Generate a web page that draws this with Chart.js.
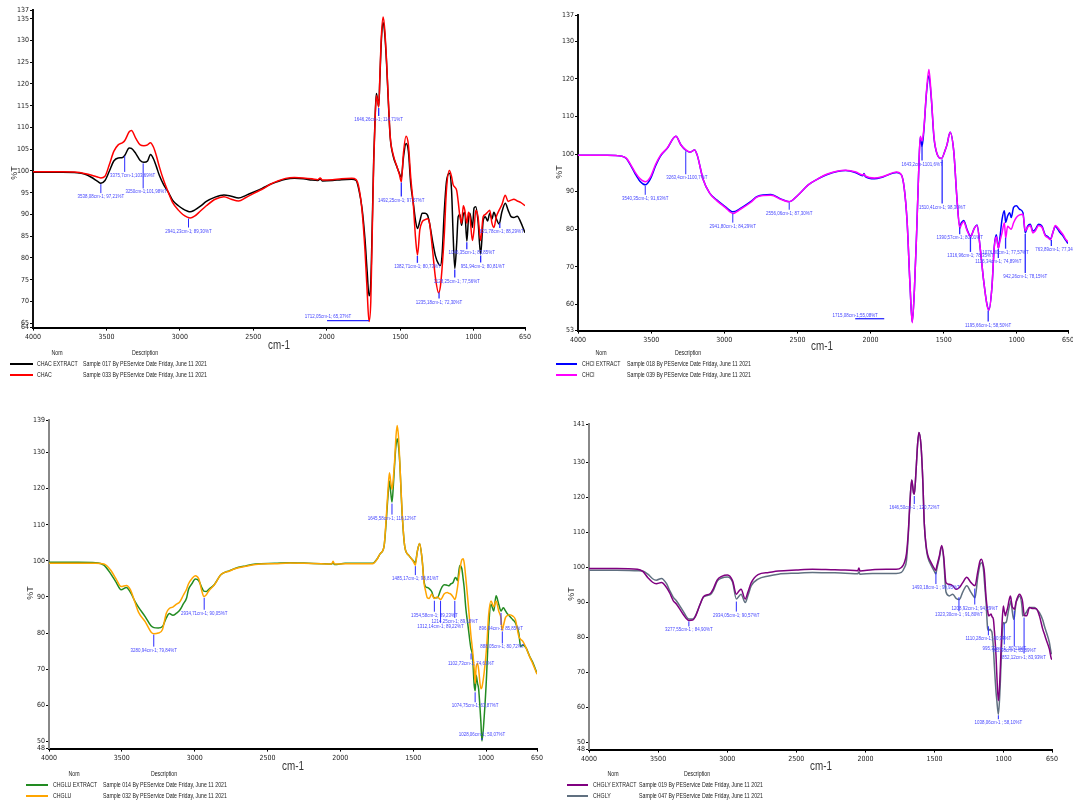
<!DOCTYPE html>
<html><head><meta charset="utf-8">
<script src="https://cdn.jsdelivr.net/npm/chart.js@4.4.1/dist/chart.umd.min.js"></script>
<style>
html,body{margin:0;padding:0;background:#fff;}
#root{position:relative;width:1073px;height:805px;overflow:hidden;background:#fff;font-family:'Liberation Sans',Arial,sans-serif;}
.pane{position:absolute;}
.t{position:absolute;white-space:nowrap;color:#222;line-height:1;}
.c{transform:translate(-50%,-50%) scaleX(0.82);}
.l{transform:translateY(-50%) scaleX(0.82);transform-origin:0 50%;}
.ytitle{transform:translate(-50%,-50%) rotate(-90deg);font-size:9px;color:#333;}
.xtitle{font-size:12px;color:#333;}
.leg{font-size:6.4px;}
.sw{position:absolute;height:2px;}
</style></head><body><div id="root"></div>
<script>
const FONT = "'Liberation Sans Narrow','DejaVu Sans Condensed','Liberation Sans',Arial,sans-serif";
const AFONT = "'Liberation Sans',Arial,sans-serif";

// ---------- shared ticks ----------
const X_TICKS = [4000,3500,3000,2500,2000,1500,1000,650];
const Y_TICKS_CHAC = [64,65,70,75,80,85,90,95,100,105,110,115,120,125,130,135,137];
const Y_TICKS_CHCL = [53,60,70,80,90,100,110,120,130,137];
const Y_TICKS_CHGLU = [48,50,60,70,80,90,100,110,120,130,139];
const Y_TICKS_CHGLY = [48,50,60,70,80,90,100,110,120,130,141];

// ---------- panel 1 : CHAC ----------
const WN_CHAC = [4000,3800,3700,3650,3600,3560,3538,3510,3480,3450,3420,3390,3375,3345,3330,3300,3270,3245,3220,3200,3180,3160,3140,3110,3080,3050,3010,2980,2950,2930,2900,2860,2820,2760,2700,2650,2600,2550,2500,2440,2380,2340,2280,2220,2160,2100,2060,2045,2030,1960,1900,1830,1800,1780,1760,1740,1725,1712,1700,1690,1680,1670,1662,1655,1646,1638,1628,1616,1605,1593,1580,1568,1548,1525,1506,1492,1478,1460,1444,1428,1410,1395,1382,1366,1350,1330,1313,1300,1280,1260,1238,1226,1215,1200,1185,1165,1150,1139,1128,1115,1105,1093,1082,1070,1060,1046,1035,1025,1008,997,985,970,952,935,920,905,890,875,862,845,826,808,784,765,745,726,703,680,650];
const CHAC_EXTRACT = [99.7,99.7,99.6,99.3,98.5,97.6,97.2,97.8,100.0,102.3,103.0,103.1,103.6,105.3,105.2,104.0,102.4,102.0,102.3,103.8,102.8,101.0,99.0,96.8,95.2,93.3,92.0,91.3,90.8,90.6,91.0,91.9,93.0,94.0,94.5,94.2,93.8,94.4,95.1,96.0,97.0,97.5,98.1,98.3,98.2,97.9,97.8,98.2,97.7,97.8,98.0,98.1,97.8,95.5,91.5,84.5,77.0,71.3,74.5,88.0,103.0,113.0,117.8,116.5,114.8,121.5,130.0,134.1,131.5,125.0,115.5,107.8,103.5,101.2,99.5,98.5,103.0,106.3,104.5,97.0,92.5,88.5,86.8,88.5,90.3,90.3,89.8,88.0,84.0,80.5,78.6,78.3,80.5,90.5,97.5,99.5,95.5,85.0,77.6,83.5,89.5,90.0,87.5,90.0,90.5,83.9,89.0,90.3,87.0,91.5,91.8,88.5,80.9,88.5,89.5,88.5,90.3,89.0,90.5,89.0,87.8,90.5,92.6,91.0,89.5,89.3,89.6,88.3,85.8];
const CHAC = [99.8,99.8,99.7,99.4,99.0,98.6,98.4,98.8,101.5,104.5,106.0,106.5,107.0,109.0,109.3,107.5,106.0,105.8,106.0,106.5,105.5,103.5,101.0,97.8,95.2,92.8,91.0,90.0,89.4,89.2,89.6,90.8,92.0,93.5,94.1,93.5,93.1,93.9,94.8,95.8,97.0,97.6,98.3,98.5,98.4,98.2,98.0,98.4,97.9,98.0,98.2,98.3,98.0,96.0,91.0,82.0,72.5,65.4,70.0,86.0,102.0,112.5,117.3,116.3,114.7,122.0,131.0,135.4,132.5,125.5,116.0,108.0,103.8,101.3,99.3,97.5,104.0,108.0,106.0,98.5,92.0,84.5,80.7,86.5,88.3,88.8,89.0,88.0,82.0,75.5,72.0,73.5,77.5,85.0,95.5,100.1,98.7,96.8,96.3,95.5,93.0,89.5,88.0,92.0,91.0,88.0,90.5,89.5,84.0,86.5,91.0,89.5,84.0,89.5,90.0,90.5,91.0,88.0,87.0,89.5,91.0,92.2,94.4,93.0,93.3,93.5,93.1,92.8,92.0];
const ANN_CHAC_WN = [3538.08,3375.7,3250,2941.23,1712.05,1646.26,1492.25,1382.71,1235.18,1128.25,1046.35,951.94,821.78];
const ANN_CHAC_VAL = [97.21,103.69,101.98,89.30,65.37,114.71,97.57,80.73,72.30,77.56,83.85,80.81,88.29];
const ANN_CHAC_TEXT = ["3538,08cm-1; 97,21%T","3375,7cm-1;103,69%T","3250cm-1;101,98%T","2941,23cm-1; 89,30%T","1712,05cm-1; 65,37%T","1646,26cm-1; 114,71%T","1492,25cm-1; 97,57%T","1382,71cm-1; 80,73%T","1235,18cm-1; 72,30%T","1128,25cm-1; 77,56%T","1046,35cm-1; 83,85%T","951,94cm-1; 80,81%T","821,78cm-1; 88,29%T"];

// ---------- panel 2 : CHCl ----------
const WN_CHCL = [4000,3800,3700,3670,3640,3610,3575,3540,3505,3470,3435,3390,3331,3296,3263,3233,3203,3185,3145,3100,3052,2994,2941,2890,2820,2774,2681,2611,2556,2495,2426,2368,2300,2170,2100,2054,2045,2036,1973,1915,1822,1790,1770,1750,1730,1715,1700,1685,1672,1660,1648,1636,1617,1601,1585,1566,1543,1515,1490,1477,1456,1431,1409,1390,1379,1363,1340,1316,1290,1272,1249,1227,1204,1190,1170,1154,1140,1126,1117,1101,1085,1076,1063,1049,1038,1022,1003,981,958,942,926,908,890,874,851,828,806,790,770,750,737,720,703,685,669,650];
const CHCL_EXTRACT = [99.7,99.7,99.4,98.8,97.0,94.8,92.7,91.8,93.4,96.8,99.5,101.5,104.7,102.4,101.0,100.5,101.1,99.7,93.3,89.6,87.8,86.0,84.6,85.5,87.3,88.7,89.2,88.0,87.3,89.1,91.8,93.2,94.5,95.6,95.0,94.2,94.8,94.0,93.4,93.9,95.1,94.5,91.0,82.0,65.0,55.3,64.0,79.0,94.0,104.5,102.0,106.0,116.5,120.8,115.0,104.2,99.8,98.8,101.0,102.5,105.8,100.7,88.0,80.8,81.7,82.3,79.9,78.2,80.3,81.1,74.5,66.4,60.0,58.6,64.6,75.4,78.5,75.0,77.2,82.6,84.9,81.8,83.5,84.4,83.1,85.8,86.2,85.3,84.4,79.0,80.8,81.3,79.5,79.9,81.3,80.8,78.5,78.1,77.4,79.5,80.8,80.0,79.0,78.2,77.2,76.2];
const CHCL = [99.7,99.7,99.4,98.9,97.2,95.2,93.4,92.6,93.9,97.2,99.7,101.6,104.7,102.4,101.1,100.5,101.1,99.7,93.3,89.6,87.6,85.8,84.2,85.3,87.1,88.6,89.0,87.9,87.3,89.1,91.8,93.2,94.6,95.7,95.2,94.4,94.6,94.2,93.6,94.0,95.2,94.5,91.0,82.0,65.0,55.1,64.0,79.0,94.0,104.7,103.5,106.5,117.0,122.5,115.5,104.5,99.8,98.8,101.0,102.5,105.8,100.7,88.0,80.2,81.2,82.0,79.6,78.0,80.3,81.0,74.5,66.4,59.8,58.4,64.6,75.2,78.0,74.9,76.5,79.0,81.7,77.6,80.8,80.3,80.0,81.7,83.1,83.8,84.0,79.5,80.5,81.0,79.0,79.5,81.0,80.5,78.3,77.8,77.2,79.6,81.0,80.4,79.5,78.6,77.5,76.6];
const ANN_CHCL_WN = [3540.35,3263.4,2941.80,2556.06,1715.08,1648,1510.41,1390.57,1316.96,1195.66,1126.34,1076.80,942.26,763.89];
const ANN_CHCL_VAL = [91.8,101.0,84.4,87.3,55.1,102.5,98.8,80.8,78.2,58.6,75.0,78.0,79.0,77.4];
const ANN_CHCL_TEXT = ["3540,35cm-1; 91,63%T","3263,4cm-1100,7%T","2941,80cm-1; 84,29%T","2556,06cm-1; 87,30%T","1715,08cm-1;55,08%T","1643,2cm-1101,6%T","1510,41cm-1; 98,30%T","1390,57cm-1; 80,01%T","1316,96cm-1; 78,35%T","1195,66cm-1; 58,50%T","1126,34cm-1; 74,89%T","1076,80cm-1; 77,57%T","942,26cm-1; 78,15%T","763,89cm-1; 77,34%T"];

// ---------- panel 3 : CHGLU ----------
const WN_CHGLU = [4000,3800,3680,3623,3576,3540,3505,3469,3440,3410,3386,3339,3300,3280,3250,3221,3195,3174,3150,3125,3103,3079,3055,3043,3020,2996,2972,2950,2937,2920,2901,2866,2819,2760,2724,2650,2582,2450,2345,2250,2132,2060,2050,2040,1967,1850,1778,1750,1726,1700,1685,1673,1663,1653,1645,1636,1627,1618,1610,1600,1592,1576,1558,1530,1499,1485,1472,1456,1438,1426,1415,1403,1390,1373,1357,1334,1311,1304,1288,1265,1254,1242,1226,1214,1208,1196,1180,1166,1157,1150,1139,1122,1104,1093,1081,1074,1068,1058,1051,1035,1028,1012,996,989,982,966,947,931,913,897,890,881,867,858,839,816,798,775,763,747,724,700,680,650];
const CHGLU_EXTRACT = [99.6,99.6,99.5,98.8,96.4,94.1,92.0,92.6,91.2,88.8,87.2,84.5,82.0,81.5,81.4,81.8,84.2,85.4,84.9,85.5,86.3,88.0,89.8,92.0,93.6,95.0,94.5,92.5,91.6,91.5,92.2,93.4,96.2,97.3,97.9,98.6,99.1,99.3,99.5,99.4,99.2,99.1,99.5,99.0,99.3,99.3,99.3,100.4,102.0,104.0,111.0,118.0,122.1,118.5,116.3,121.0,127.0,132.0,133.8,131.5,127.0,113.2,104.0,101.5,100.0,99.5,102.5,104.8,100.1,94.5,92.8,92.6,92.3,91.5,89.8,89.8,92.0,92.6,93.4,93.2,93.1,93.6,94.0,95.2,95.4,94.5,98.7,97.8,95.0,92.6,87.0,81.5,75.8,73.9,65.5,64.0,68.3,66.0,64.6,55.2,50.1,57.1,68.3,75.0,81.4,88.0,86.1,90.3,88.0,86.1,86.5,87.0,86.2,85.6,84.7,83.7,82.8,80.0,76.3,76.7,75.8,73.5,72.0,68.8];
const CHGLU = [99.3,99.3,99.3,99.1,97.4,95.0,92.9,93.2,91.9,88.5,85.8,83.1,80.3,79.8,80.0,81.0,85.5,86.8,87.2,88.0,88.6,90.4,92.2,93.6,95.0,95.9,95.0,91.5,90.1,90.6,91.8,93.3,96.2,97.2,97.8,98.5,99.0,99.2,99.4,99.3,99.2,99.1,99.9,99.1,99.2,99.2,99.2,100.3,102.0,104.0,112.0,119.5,124.4,121.5,119.8,123.0,128.0,134.5,137.5,134.0,127.5,113.5,104.0,101.5,99.8,98.8,102.5,104.8,100.1,94.0,91.7,89.8,89.6,90.8,89.6,90.0,89.3,89.6,90.8,91.2,91.0,90.8,90.0,89.3,89.8,92.6,97.5,100.3,100.6,99.5,95.4,88.0,79.5,75.5,70.0,66.0,70.5,71.6,70.0,64.6,65.0,69.3,76.0,80.5,85.0,88.9,87.3,88.9,86.1,84.0,80.7,82.0,84.2,84.7,85.1,84.7,83.7,79.1,78.3,77.7,75.8,73.4,71.6,68.6];
const ANN_CHGLU_WN = [3280.94,2934.71,1645.58,1485.17,1354.58,1312.14,1214.25,1102.73,1074.75,1028.06,896.94,888.05];
const ANN_CHGLU_VAL = [79.84,90.05,116.12,98.81,89.23,89.22,89.18,74.61,63.87,50.07,85.85,80.72];
const ANN_CHGLU_TEXT = ["3280,94cm-1; 79,84%T","2934,71cm-1; 90,05%T","1645,58cm-1; 116,12%T","1485,17cm-1; 98,81%T","1354,58cm-1; 89,23%T","1312,14cm-1; 89,22%T","1214,25cm-1; 89,18%T","1102,73cm-1; 74,61%T","1074,75cm-1; 63,87%T","1028,06cm-1; 50,07%T","896,94cm-1; 85,85%T","888,05cm-1; 80,72%T"];

// ---------- panel 4 : CHGLY ----------
const WN_CHGLY = [4000,3800,3650,3611,3574,3540,3513,3476,3439,3417,3390,3368,3318,3277,3250,3233,3196,3171,3122,3100,3072,3040,2998,2961,2934,2915,2900,2870,2850,2826,2777,2700,2630,2500,2383,2250,2146,2055,2047,2040,1950,1850,1777,1740,1720,1703,1690,1678,1665,1651,1646,1634,1622,1613,1598,1585,1574,1560,1549,1525,1501,1490,1484,1465,1448,1434,1417,1393,1368,1344,1320,1296,1267,1236,1207,1188,1171,1160,1146,1139,1127,1115,1108,1098,1091,1084,1074,1067,1055,1050,1038,1026,1011,1002,995,987,982,970,963,951,946,939,927,922,910,905,886,866,862,850,838,833,813,789,777,765,741,717,705,693,669,655,650];
const CHGLY_EXTRACT = [99.7,99.7,99.5,98.9,97.1,95.8,95.4,95.7,94.3,92.8,90.5,89.6,86.6,84.9,85.0,85.8,89.5,91.7,92.6,94.0,96.5,97.5,97.9,96.2,92.4,93.3,93.8,91.0,93.0,95.7,98.0,98.6,99.0,99.3,99.5,99.4,99.3,99.1,99.9,99.0,99.4,99.5,99.5,100.0,101.2,104.0,110.0,118.5,125.0,121.2,121.0,127.5,135.5,138.6,135.0,125.0,112.5,106.0,103.6,101.4,99.7,99.2,100.3,103.3,106.3,103.3,95.7,95.2,94.8,93.8,94.3,95.7,97.2,95.7,94.8,98.6,101.9,102.4,100.5,98.6,91.5,87.5,86.2,86.5,86.7,86.0,85.2,82.0,74.8,70.0,62.0,69.0,84.3,89.0,87.5,86.2,87.0,88.6,90.2,91.9,91.0,89.0,88.3,88.1,90.2,90.9,92.4,90.9,90.0,86.2,86.2,86.2,88.6,88.3,88.3,88.3,86.2,82.4,81.0,79.5,76.7,74.0,73.7];
const CHGLY = [99.2,99.2,99.1,99.0,98.1,96.8,96.4,96.9,95.4,93.5,91.5,90.5,87.5,85.3,85.3,86.0,89.5,91.6,92.3,93.5,96.1,97.0,97.3,95.8,91.0,91.8,92.4,90.0,92.0,94.8,96.7,97.6,98.1,98.4,98.6,98.5,98.4,98.2,98.8,98.1,98.3,98.3,98.3,98.6,99.8,102.0,109.0,118.5,125.0,121.2,121.0,127.5,135.5,138.6,135.0,125.0,112.5,105.5,103.0,100.7,98.9,98.2,99.5,102.8,106.0,102.5,93.0,91.9,92.4,91.2,90.9,93.0,94.8,92.9,91.4,97.0,100.8,101.4,99.5,96.0,90.0,82.4,82.0,82.4,82.0,81.4,77.0,71.9,64.5,62.4,58.1,65.2,80.5,84.3,84.0,84.3,84.3,86.5,88.1,90.0,90.5,88.0,85.2,86.0,90.0,90.5,91.9,88.5,86.2,86.5,87.1,87.4,88.6,88.6,88.6,88.2,87.1,85.0,83.3,81.8,78.6,75.5,75.3];
const ANN_CHGLY_WN = [3277.55,2934.05,1646.50,1490,1323.30,1208.92,1110.28,995.32,922.98,852.12,1038.06];
const ANN_CHGLY_VAL = [84.9,90.57,120.72,99.0,91.8,94.29,83.5,84.3,88.0,86.0,58.1];
const ANN_CHGLY_TEXT = ["3277,55cm-1 ; 84,90%T","2934,05cm-1; 90,57%T","1646,50cm-1 ; 120,72%T","1493,18cm-1 ; 99,95%T","1323,30cm-1 ; 91,80%T","1208,92cm-1; 94,29%T","1110,28cm-1; 80,94%T","995,32cm-1; 80,11%T","922,98cm-1; 85,89%T","852,12cm-1; 83,93%T","1038,06cm-1 ; 58,10%T"];

// ---------- legend text ----------
const SERIES_NAMES = [["CHAC EXTRACT","CHAC"],["CHCl EXTRACT","CHCl"],["CHGLU EXTRACT","CHGLU"],["CHGLY EXTRACT","CHGLY"]];
const SERIES_DESC = [["Sample 017 By PEService Date Friday, June 11 2021","Sample 033 By PEService Date Friday, June 11 2021"],
 ["Sample 018 By PEService Date Friday, June 11 2021","Sample 039 By PEService Date Friday, June 11 2021"],
 ["Sample 014 By PEService Date Friday, June 11 2021","Sample 032 By PEService Date Friday, June 11 2021"],
 ["Sample 019 By PEService Date Friday, June 11 2021","Sample 047 By PEService Date Friday, June 11 2021"]];

// ---------- layout / style (not data) ----------
// annotation label layout: ['v', lineLengthPx, textDx] or ['h', lineX0, lineX1, lineDy, textDx, textDy]
const LAY_CHAC = [['v',10,0],['v',17,8],['v',26,3],['v',10,0],['h',-42,0,-1,-41,-5],['v',9,0],['v',15,0],['v',8,0],['v',7,0],['v',9,2],['v',8,5],['v',8,2],['v',6,2]];
const LAY_CHCL = [['v',10,0],['v',24,1],['v',10,0],['v',8,0],['h',-57,-28,-4,-57,-7],['v',16,0],['v',45,0],['v',8,0],['v',16,0],['v',12,0],['v',10,0],['v',12,0],['v',40,0],['v',7,6]];
const LAY_CHGLU = [['v',13,0],['v',13,0],['v',12,0],['v',10,0],['v',12,0],['v',23,0],['v',18,0],['v',7,0],['v',11,0],['v',-3,0],['v',13,0],['v',13,0]];
const LAY_CHGLY = [['v',6,0],['v',11,0],['v',9,0],['v',13,0],['v',15,0],['v',17,0],['v',10,0],['v',22,0],['v',37,0],['v',37,0],['v',5,0]];

const PANELS = [
 {plot:{left:33,top:10,right:525,bottom:328}, ymin:64,ymax:137, yt:Y_TICKS_CHAC, wn:WN_CHAC,
  series:[{v:CHAC_EXTRACT,c:'#000000',o:1},{v:CHAC,c:'#ff0000',o:0}], yAxisColor:'#111',
  ann:{wn:ANN_CHAC_WN,val:ANN_CHAC_VAL,text:ANN_CHAC_TEXT,lay:LAY_CHAC},
  xt:{x:279,y:345}, ytl:{x:14,y:173}, leg:{nom:57,desc:145,y:353,sw0:10,sw1:33,name:37,dtx:83}},
 {plot:{left:578,top:15,right:1068,bottom:331}, ymin:53,ymax:137, yt:Y_TICKS_CHCL, wn:WN_CHCL,
  series:[{v:CHCL_EXTRACT,c:'#0000ff',o:1},{v:CHCL,c:'#ff00ff',o:0}], yAxisColor:'#111',
  ann:{wn:ANN_CHCL_WN,val:ANN_CHCL_VAL,text:ANN_CHCL_TEXT,lay:LAY_CHCL},
  xt:{x:822,y:346}, ytl:{x:559,y:172}, leg:{nom:601,desc:688,y:353,sw0:556,sw1:577,name:582,dtx:627}},
 {plot:{left:49,top:420,right:537,bottom:749}, ymin:48,ymax:139, yt:Y_TICKS_CHGLU, wn:WN_CHGLU,
  series:[{v:CHGLU_EXTRACT,c:'#228b22',o:1},{v:CHGLU,c:'#ffa500',o:0}], yAxisColor:'#888',
  ann:{wn:ANN_CHGLU_WN,val:ANN_CHGLU_VAL,text:ANN_CHGLU_TEXT,lay:LAY_CHGLU},
  xt:{x:293,y:766}, ytl:{x:30,y:593}, leg:{nom:74,desc:164,y:774,sw0:26,sw1:48,name:53,dtx:103}},
 {plot:{left:589,top:424,right:1052,bottom:750}, ymin:48,ymax:141, yt:Y_TICKS_CHGLY, wn:WN_CHGLY,
  series:[{v:CHGLY_EXTRACT,c:'#800080',o:0},{v:CHGLY,c:'#607080',o:1}], yAxisColor:'#888',
  ann:{wn:ANN_CHGLY_WN,val:ANN_CHGLY_VAL,text:ANN_CHGLY_TEXT,lay:LAY_CHGLY},
  xt:{x:821,y:766}, ytl:{x:571,y:594}, leg:{nom:613,desc:697,y:774,sw0:567,sw1:588,name:593,dtx:639}}
];

const root = document.getElementById('root');

function annPlugin(a){
  return {id:'ann', afterDatasetsDraw(chart){
    const ctx=chart.ctx, xs=chart.scales.x, ys=chart.scales.y;
    ctx.save();
    ctx.font = '5.6px ' + AFONT; ctx.textAlign='center'; ctx.textBaseline='middle';
    ctx.fillStyle='#4646ff'; ctx.strokeStyle='#2a2aff'; ctx.lineWidth=1;
    const txt=(s,x,y)=>{ctx.save();ctx.translate(x,y);ctx.scale(0.8,1);ctx.fillText(s,0,0);ctx.restore();};
    a.wn.forEach((w,i)=>{
      const px=xs.getPixelForValue(w), py=ys.getPixelForValue(a.val[i]); const L=a.lay[i];
      ctx.beginPath();
      if(L[0]==='h'){
        ctx.lineWidth=1.3;
        ctx.moveTo(px+L[1],py+L[3]); ctx.lineTo(px+L[2],py+L[3]); ctx.stroke();
        txt(a.text[i], px+L[4], py+L[5]);
      } else {
        const s = L[1]>0?1:-1;
        ctx.moveTo(px,py+s); ctx.lineTo(px,py+L[1]); ctx.stroke();
        txt(a.text[i], px+L[2], py+L[1]+s*3.5);
      }
    });
    ctx.restore();
  }};
}

function conf(p){
  return {
    type:'line',
    data:{datasets:p.series.map(s=>({data:p.wn.map((w,k)=>({x:w,y:s.v[k]})), borderColor:s.c, borderWidth:1.5,
      pointRadius:0, fill:false, cubicInterpolationMode:'monotone', order:s.o}))},
    options:{responsive:false, maintainAspectRatio:false, animation:false, events:[],
      layout:{padding:{top:6,right:12,left:2,bottom:2}},
      plugins:{legend:{display:false},tooltip:{enabled:false}},
      scales:{
        x:{type:'linear', reverse:true, min:650, max:4000,
          afterBuildTicks:sc=>{sc.ticks=X_TICKS.map(v=>({value:v}));},
          ticks:{autoSkip:false, maxRotation:0, padding:2, color:'#222', font:{family:FONT,size:7}, callback:v=>String(v)},
          grid:{drawOnChartArea:false, tickLength:3, color:'#000', lineWidth:1},
          border:{display:true, color:'#000', width:2}},
        y:{type:'linear', min:p.ymin, max:p.ymax,
          afterBuildTicks:sc=>{sc.ticks=p.yt.map(v=>({value:v}));},
          ticks:{autoSkip:false, padding:1, color:'#222', font:{family:FONT,size:7}, callback:v=>String(v)},
          grid:{drawOnChartArea:false, tickLength:3, color:'#000', lineWidth:1},
          border:{display:true, color:p.yAxisColor, width:2}}
      }},
    plugins:[annPlugin(p.ann)]
  };
}

function mkCanvas(div,W,H){
  div.innerHTML=''; const cv=document.createElement('canvas');
  cv.width=W; cv.height=H; cv.style.width=W+'px'; cv.style.height=H+'px'; div.appendChild(cv); return cv;
}

function addText(txt,x,y,cls){
  const d=document.createElement('div'); d.className='t '+cls; d.textContent=txt;
  d.style.left=x+'px'; d.style.top=y+'px'; root.appendChild(d); return d;
}

PANELS.forEach((p,pi)=>{
  const div=document.createElement('div'); div.className='pane'; root.appendChild(div);
  const pw=p.plot.right-p.plot.left, ph=p.plot.bottom-p.plot.top;
  let W=pw+60, H=ph+40;
  let ch=new Chart(mkCanvas(div,W,H), conf(p));
  const a=ch.chartArea; const l=a.left,t=a.top,r=W-a.right,b=H-a.bottom;
  ch.destroy();
  W=pw+l+r; H=ph+t+b;
  ch=new Chart(mkCanvas(div,W,H), conf(p));
  div.style.left=(p.plot.left-ch.chartArea.left)+'px';
  div.style.top=(p.plot.top-ch.chartArea.top)+'px';

  addText('cm-1',p.xt.x,p.xt.y,'xtitle c');
  addText('%T',p.ytl.x,p.ytl.y,'ytitle');
  const L=p.leg;
  addText('Nom',L.nom,L.y,'leg c');
  addText('Description',L.desc,L.y,'leg c');
  [0,1].forEach(k=>{
    const y=L.y+11+k*11;
    const sw=document.createElement('div'); sw.className='sw';
    Object.assign(sw.style,{left:L.sw0+'px',width:(L.sw1-L.sw0)+'px',top:(y-1)+'px',background:p.series[k].c});
    root.appendChild(sw);
    addText(SERIES_NAMES[pi][k],L.name,y,'leg l');
    addText(SERIES_DESC[pi][k],L.dtx,y,'leg l');
  });
});
</script></body></html>
